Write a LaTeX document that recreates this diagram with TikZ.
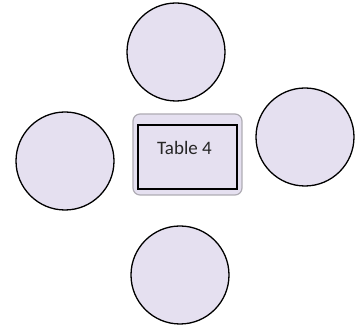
\documentclass[tikz,border=0pt]{standalone}
\usepackage{fontspec}
\setmainfont{Carlito}
\definecolor{lav}{RGB}{229,224,240}
\definecolor{rimgray}{RGB}{175,172,180}
\begin{document}
\begin{tikzpicture}[x=1pt,y=-1pt,
  seat/.style={circle,draw=black,line width=1.3pt,fill=lav,minimum size=98pt,inner sep=0pt},
  tableouter/.style={rectangle,rounded corners=7pt,draw=rimgray,line width=1.2pt,fill=lav,minimum width=109pt,minimum height=81pt},
  tableinner/.style={rectangle,draw=black,line width=1.2pt,minimum width=99pt,minimum height=64pt,inner sep=0pt}]
\useasboundingbox (0,0) rectangle (360,328);
\node[seat] (top) at (176,52) {};
\node[seat] (left) at (65,161) {};
\node[seat] (right) at (305,137) {};
\node[seat] (bottom) at (180,275) {};
\node[tableouter] (outer) at (187.5,154.5) {};
\node[tableinner] (inner) at (187.5,157) {};
\node[font=\fontsize{19}{21}\selectfont,text=black!85] (label) at (184.5,148) {Table 4};
\end{tikzpicture}
\end{document}
